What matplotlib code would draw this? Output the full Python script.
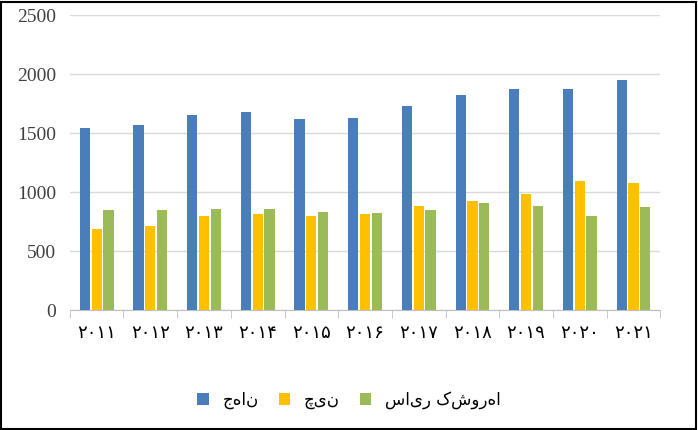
import matplotlib
matplotlib.use("Agg")
import matplotlib.pyplot as plt
import numpy as np

years = ["۲۰۱۱","۲۰۱۲","۲۰۱۳","۲۰۱۴","۲۰۱۵","۲۰۱۶","۲۰۱۷","۲۰۱۸","۲۰۱۹","۲۰۲۰","۲۰۲۱"]
world = [1540,1565,1655,1675,1620,1630,1730,1825,1875,1875,1950]
china = [690,715,800,810,795,810,885,920,985,1090,1080]
others = [845,845,855,860,835,820,845,910,885,795,870]
names = ["جهان","چین","سایر کشورها"]
colors = ["#4a7ebb","#ffc000","#9bbb59"]

fig = plt.figure(figsize=(6.98,4.30), dpi=100)
ax = fig.add_axes([0.1,0.279,0.846,0.686])
x = np.arange(len(years))
w = 0.19
for i,(vals,n,c) in enumerate(zip([world,china,others],names,colors)):
    ax.bar(x+(i-1)*(w+0.03), vals, w, color=c, label=n, zorder=3)
ax.set_xlim(-0.5,len(years)-0.5)
ax.set_ylim(0,2500)
ax.set_yticks(range(0,2501,500))
ax.yaxis.grid(True,color="#d9d9d9",lw=1,zorder=0)
for s in ["top","right","left"]:
    ax.spines[s].set_visible(False)
ax.spines["bottom"].set_color("#bfbfbf")
ax.set_xticks(x)
ax.set_xticklabels(years, fontsize=13, family=["DejaVu Sans"])
ax.set_xticks(np.arange(-0.5,len(years)),minor=True)
ax.tick_params(axis="x",which="major",length=0,pad=10)
ax.tick_params(axis="x",which="minor",length=6,color="#bfbfbf")
ax.tick_params(axis="y",length=0,labelsize=14,colors="#404040",pad=10)
for t in ax.get_yticklabels():
    t.set_family("Liberation Serif")
fig.legend(loc="center",bbox_to_anchor=(0.5,0.07),ncol=3,frameon=False,handlelength=0.7,handleheight=0.7,columnspacing=1.2,prop={"family":"DejaVu Sans","size":12})
fig.patches.append(plt.Rectangle((0.002,0.003),0.995,0.993,transform=fig.transFigure,fill=False,edgecolor="black",lw=1.5))
fig.savefig("out.png",dpi=100)
